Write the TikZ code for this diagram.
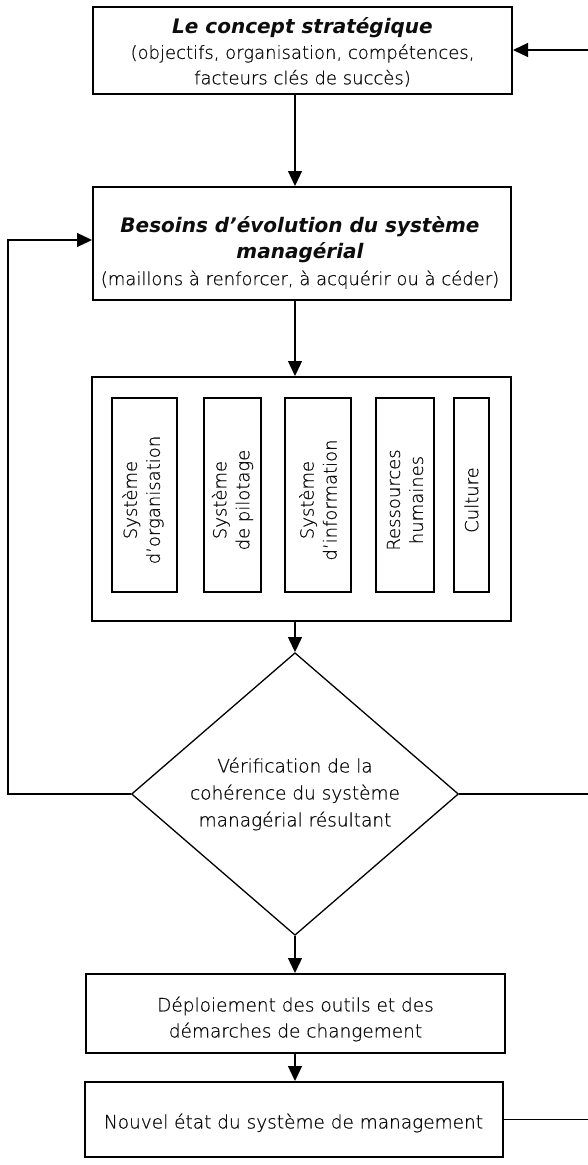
\documentclass[tikz,border=0pt]{standalone}
\usepackage{fontspec}
\setmainfont{DejaVu Sans}[UprightFont=* ExtraLight, UprightFeatures={FakeBold=0.6}, BoldFont=* Bold, BoldItalicFont=* Bold Oblique]
\usetikzlibrary{shapes.geometric,arrows.meta}
\definecolor{txt}{gray}{0.05}
\tikzset{
  box/.style={draw=black, line width=2pt, rectangle, inner sep=0pt},
  tx/.style={align=center, text=txt, inner sep=0pt},
  inbox/.style={draw=black, line width=1.7pt, rectangle, inner sep=0pt, minimum height=194pt},
  intx/.style={tx, rotate=90, font=\fontsize{18}{23}\selectfont},
  dia/.style={draw=black, line width=1.3pt, diamond, inner sep=0pt, align=center, text=txt,
     minimum width=327pt, minimum height=243pt, font=\fontsize{18.5}{27}\selectfont},
  conn/.style={line width=1.3pt, draw=black},
  arr/.style={conn, -{Triangle[width=14pt,length=15pt]}},
  bd/.style={font=\fontsize{18.5}{26}\selectfont},
}
\newcommand{\hdtext}[1]{{\fontsize{20}{26}\selectfont\bfseries\itshape #1}}
\begin{document}
\begin{tikzpicture}[x=1pt,y=-1pt]
\useasboundingbox (0,0) rectangle (588,1165);
\fill[white] (0,0) rectangle (588,1165);

% top box
\node[box, minimum width=419pt, minimum height=87pt] (top) at (302.5,50.5) {};
\node[tx, font=\fontsize{18}{25.5}\selectfont] (topt) at (302.5,52)
  {\hdtext{Le concept stratégique}\\
   (objectifs, organisation, compétences,\\
   facteurs clés de succès)};

% second box
\node[box, minimum width=418pt, minimum height=113pt] (sec) at (302,243.5) {};
\node[tx, font=\fontsize{18}{26.5}\selectfont] (sect) at (300,252.5)
  {\hdtext{Besoins d'évolution du système}\\
   \hdtext{managérial}\\
   (maillons à renforcer, à acquérir ou à céder)};

% systems box
\node[box, minimum width=419pt, minimum height=244pt] (sys) at (301.5,499) {};

\node[inbox, minimum width=65pt] (b1) at (144.5,495) {};
\node[inbox, minimum width=57pt] (b2) at (232.5,495) {};
\node[inbox, minimum width=66pt] (b3) at (318,495) {};
\node[inbox, minimum width=58pt] (b4) at (405,495) {};
\node[inbox, minimum width=35pt] (b5) at (471.5,495) {};
\node[intx] (t1) at (143,500) {Système\\d'organisation};
\node[intx] (t2) at (232.5,500) {Système\\de pilotage};
\node[intx] (t3) at (318,500) {Système\\d'information};
\node[intx] (t4) at (405,500) {Ressources\\humaines};
\node[intx] (t5) at (471.5,500) {Culture};

% decision
\node[dia] (v) at (295,794) {Vérification de la\\cohérence du système\\managérial résultant};

% bottom boxes
\node[box, minimum width=419pt, minimum height=79pt] (dep) at (295.5,1013.5) {};
\node[tx, bd] (dept) at (295.5,1019) {Déploiement des outils et des\\démarches de changement};

\node[box, minimum width=418pt, minimum height=75pt] (nouv) at (293.5,1119.5) {};
\node[tx, bd] (nouvt) at (293.5,1123) {Nouvel état du système de management};

\coordinate (Rtop) at (588,50);
\coordinate (Lc) at (8,240);
\coordinate (Redge) at (588,0);

\draw[arr] (Rtop) -- (Rtop -| top.east);
\draw[arr] (top.south -| v.north) -- (sec.north -| v.north);
\draw[arr] (sec.south -| v.north) -- (sys.north -| v.north);
\draw[arr] (sys.south -| v.north) -- (v.north);
\draw[arr] (v.south) -- (dep.north -| v.south);
\draw[arr] (dep.south -| v.south) -- (nouv.north -| v.south);
\draw[arr] (v.west) -| (Lc) -- (Lc -| sec.west);
\draw[conn] (v.east) -- (v.east -| Redge);
\draw[conn] (nouv.east) -- (nouv.east -| Redge);
\end{tikzpicture}
\end{document}
